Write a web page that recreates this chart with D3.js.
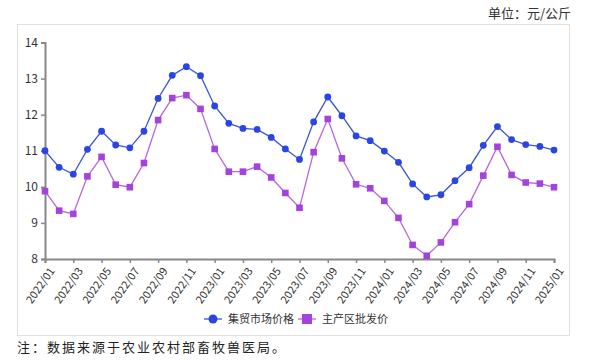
<!DOCTYPE html>
<html><head><meta charset="utf-8">
<script src="https://cdn.jsdelivr.net/npm/d3@7"></script>
<style>body{margin:0;background:#fff}svg{display:block}</style>
</head><body><svg id="c" width="592" height="362"></svg>
<script>
const months = [];
for (let y = 2022; y <= 2025; y++) for (let m = 1; m <= 12; m++) { if (y === 2025 && m > 1) break; months.push(y + "/" + String(m).padStart(2, "0")); }
const marketPrice = [11.0,10.54,10.35,11.04,11.54,11.16,11.08,11.54,12.45,13.09,13.33,13.08,
  12.24,11.76,11.62,11.59,11.37,11.05,10.76,11.8,12.49,11.97,11.41,11.28,
  10.99,10.68,10.08,9.72,9.78,10.17,10.53,11.15,11.67,11.31,11.17,11.12,11.02];
const wholesalePrice = [9.88,9.34,9.25,10.29,10.83,10.06,9.99,10.66,11.85,12.46,12.54,12.16,
  11.05,10.42,10.42,10.56,10.26,9.83,9.42,10.96,11.88,10.79,10.07,9.96,
  9.61,9.14,8.39,8.09,8.46,9.02,9.52,10.31,11.11,10.33,10.12,10.09,9.99];
const yTicks = [8,9,10,11,12,13,14];
const seriesNames = ["集贸市场价格","主产区批发价"];

const svg = d3.select("#c");
const font = "'Noto Sans CJK SC','Noto Sans',sans-serif";
svg.append("rect").attr("x",17.5).attr("y",24.5).attr("width",552).attr("height",311)
  .attr("fill","none").attr("stroke","#e0e0e0");
svg.append("text").attr("x",571).attr("y",18).attr("text-anchor","end")
  .attr("font-family",font).attr("font-size",13).attr("fill","#333").text("单位：元/公斤");
svg.append("text").attr("x",17).attr("y",352)
  .attr("font-family",font).attr("font-size",13).attr("fill","#222").attr("letter-spacing","2px").text("注：数据来源于农业农村部畜牧兽医局。");

const x = d3.scalePoint().domain(months).range([45,554]);
const y = d3.scaleLinear().domain([8,14]).range([259,42.5]);

const gy = svg.append("g").attr("transform","translate(45,0)")
  .call(d3.axisLeft(y).tickValues(yTicks).tickFormat(d3.format("d")).tickSize(4).tickPadding(3));
gy.selectAll("text").attr("font-family",font).attr("font-size",12).attr("fill","#333");
const gx = svg.append("g").attr("transform","translate(0,259)")
  .call(d3.axisBottom(x).tickValues(months.filter((d,i)=>i%2===0)).tickSize(4));
gx.selectAll("text").attr("font-family",font).attr("font-size",11).attr("fill","#333")
  .attr("text-anchor","end").attr("dx","0").attr("dy","0")
  .attr("transform","translate(4,8) rotate(-55)");
[gx,gy].forEach(g=>{g.select(".domain").attr("stroke","#888").attr("stroke-width",2);
  g.selectAll(".tick line").attr("stroke","#888").attr("stroke-width",1.5);});

const line = d3.line().x((d,i)=>x(months[i])).y(d=>y(d));
const blue = "#2b44e6", blueLine = "#3b55d8", purple = "#a443dc", purpleLine = "#b766dd";
svg.append("path").datum(wholesalePrice).attr("d",line).attr("fill","none").attr("stroke",purpleLine).attr("stroke-width",1.3);
svg.append("path").datum(marketPrice).attr("d",line).attr("fill","none").attr("stroke",blueLine).attr("stroke-width",1.3);
svg.selectAll(".sq").data(wholesalePrice).join("rect").attr("class","sq")
  .attr("x",(d,i)=>x(months[i])-3.3).attr("y",d=>y(d)-3.3).attr("width",6.6).attr("height",6.6).attr("fill",purple);
svg.selectAll(".ci").data(marketPrice).join("circle").attr("class","ci")
  .attr("cx",(d,i)=>x(months[i])).attr("cy",d=>y(d)).attr("r",3.4).attr("fill",blue);

// legend
const lg = svg.append("g").attr("font-family",font).attr("font-size",11).attr("fill","#333");
lg.append("line").attr("x1",204).attr("x2",222).attr("y1",319).attr("y2",319).attr("stroke",blueLine).attr("stroke-width",1.3);
lg.append("circle").attr("cx",213).attr("cy",319).attr("r",4.5).attr("fill",blue);
lg.append("text").attr("x",228).attr("y",323).text(seriesNames[0]);
lg.append("line").attr("x1",298).attr("x2",316).attr("y1",319).attr("y2",319).attr("stroke",purpleLine).attr("stroke-width",1.3);
lg.append("rect").attr("x",302).attr("y",314).attr("width",10).attr("height",10).attr("fill",purple);
lg.append("text").attr("x",322).attr("y",323).text(seriesNames[1]);
</script></body></html>
